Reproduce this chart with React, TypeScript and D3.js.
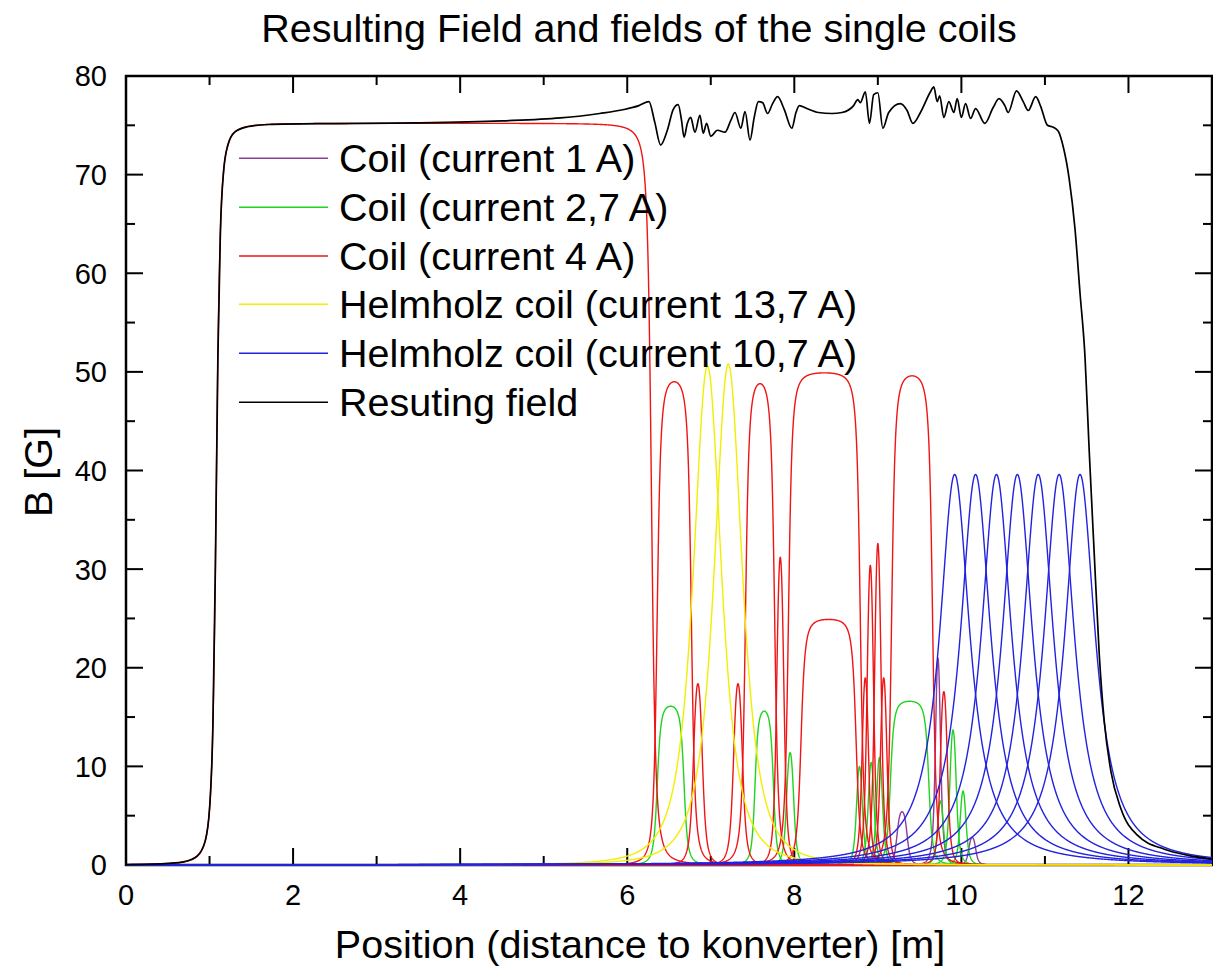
import React from 'react';
import * as d3 from 'd3';

// ---------- axis ticks ----------
const xMajorTicks = [0, 2, 4, 6, 8, 10, 12];
const xMinorTicks = [1, 3, 5, 7, 9, 11];
const yMajorTicks = [0, 10, 20, 30, 40, 50, 60, 70, 80];
const yMinorTicks = [5, 15, 25, 35, 45, 55, 65, 75];

// ---------- coil tables: [center m, peak G, half-length m, radius m] ----------
const coil1A: number[][] = [
  [9.29, 5.4, 0.06, 0.04],
  [9.72, 21.0, 0.025, 0.035],
  [10.13, 2.8, 0.04, 0.035],
];
const coil27A: number[][] = [
  [6.52, 16.1, 0.16, 0.045],
  [7.64, 15.6, 0.11, 0.04],
  [7.95, 11.4, 0.04, 0.04],
  [8.78, 10.0, 0.03, 0.04],
  [8.92, 10.4, 0.03, 0.04],
  [9.02, 10.9, 0.03, 0.04],
  [9.38, 16.6, 0.23, 0.045],
  [9.75, 6.5, 0.03, 0.04],
  [9.9, 13.7, 0.035, 0.04],
  [10.02, 7.5, 0.03, 0.04],
];
const coil4A: number[][] = [
  [3.685, 75.2, 2.605, 0.05],
  [6.563, 49.0, 0.205, 0.045],
  [6.846, 18.4, 0.05, 0.05],
  [7.326, 18.4, 0.05, 0.05],
  [7.59, 48.8, 0.175, 0.045],
  [7.832, 31.2, 0.04, 0.04],
  [8.36, 49.9, 0.43, 0.045],
  [8.41, 24.9, 0.33, 0.05],
  [8.85, 19.0, 0.035, 0.04],
  [8.91, 30.4, 0.035, 0.04],
  [9.0, 32.6, 0.035, 0.04],
  [9.07, 19.0, 0.035, 0.04],
  [9.41, 49.6, 0.245, 0.045],
  [9.79, 17.6, 0.04, 0.04],
];
// Helmholtz coils: [center m, peak G]
const helmholtz137A: number[][] = [
  [6.96, 50.6],
  [7.21, 50.8],
];
const helmholtz137Width = 0.26;
const helmholtz137Exponent = 1.5;
const helmholtz107A: number[][] = [
  [9.92, 39.6],
  [10.17, 39.6],
  [10.42, 39.6],
  [10.67, 39.6],
  [10.92, 39.6],
  [11.17, 39.6],
  [11.42, 39.6],
];
const helmholtz107Width = 0.22;
const helmholtz107Exponent = 1;

// ---------- resulting field: [position m, B G] ----------
const resultingField: number[][] = [
  [0, 0.04], [0.3, 0.08], [0.5, 0.16], [0.7, 0.35], [0.85, 0.9], [0.95, 2.5],
  [1.0, 5.7], [1.04, 14.1], [1.07, 30.2], [1.1, 51.6], [1.13, 64.2], [1.17, 70.5],
  [1.22, 73.0], [1.3, 74.3], [1.45, 74.85], [1.7, 75.08], [2.5, 75.18], [3.5, 75.25],
  [4.5, 75.45], [5.2, 75.75], [5.67, 76.2], [5.96, 76.6], [6.14, 77.0], [6.26, 77.4],
  [6.33, 75.3], [6.4, 73.0], [6.48, 74.5], [6.55, 76.6], [6.61, 77.1], [6.65, 75.5],
  [6.68, 73.8], [6.72, 75.2], [6.76, 75.8], [6.81, 74.3], [6.87, 76.0], [6.91, 74.2],
  [6.95, 75.2], [7.0, 73.9], [7.08, 74.5], [7.17, 74.3], [7.24, 75.5], [7.29, 76.3],
  [7.36, 74.7], [7.41, 76.4], [7.47, 73.5], [7.52, 75.8], [7.57, 77.4], [7.62, 77.3],
  [7.68, 76.2], [7.74, 77.2], [7.8, 77.9], [7.88, 76.6], [7.97, 74.7], [8.02, 76.3],
  [8.06, 77.0], [8.15, 76.7], [8.29, 76.3], [8.45, 76.2], [8.57, 76.3], [8.71, 77.0],
  [8.76, 77.6], [8.79, 77.3], [8.85, 78.4], [8.9, 75.2], [8.95, 78.1], [9.0, 78.3],
  [9.06, 74.7], [9.13, 76.3], [9.27, 77.2], [9.35, 76.5], [9.42, 75.2], [9.51, 76.3],
  [9.63, 78.4], [9.67, 78.9], [9.71, 77.4], [9.74, 78.0], [9.79, 75.8], [9.85, 77.4],
  [9.91, 76.3], [9.95, 77.7], [10.0, 75.8], [10.05, 77.2], [10.11, 75.7], [10.17, 76.7],
  [10.28, 75.2], [10.38, 76.8], [10.45, 77.7], [10.52, 77.0], [10.56, 76.3], [10.66, 78.5],
  [10.74, 77.4], [10.8, 76.5], [10.89, 77.9], [10.95, 76.9], [11.03, 75.0], [11.1, 74.8],
  [11.16, 74.4], [11.22, 72.8], [11.29, 69.6], [11.36, 64.5], [11.42, 58], [11.48, 51.5],
  [11.53, 42], [11.59, 31.6], [11.65, 21.4], [11.71, 14.6], [11.79, 9.5], [11.91, 5.7],
  [12.11, 3.0], [12.43, 1.6], [12.7, 1.0], [13.0, 0.6],
];

const legendLabels = [
  'Coil (current 1 A)',
  'Coil (current 2,7 A)',
  'Coil (current 4 A)',
  'Helmholz coil (current 13,7 A)',
  'Helmholz coil (current 10,7 A)',
  'Resuting field',
];

// ---------- styling ----------
const COLORS = {
  purple: '#8e3f98',
  green: '#1fd41f',
  red: '#f01414',
  yellow: '#f2ee00',
  blue: '#2222e0',
  black: '#000000',
};
const legendColors = [COLORS.purple, COLORS.green, COLORS.red, COLORS.yellow, COLORS.blue, COLORS.black];
const FONT = "'Liberation Sans', Arial, Helvetica, sans-serif";

function solenoid(z: number, c: number, h: number, L: number, R: number) {
  const a = z - c + L;
  const b = z - c - L;
  const f = a / Math.hypot(a, R) - b / Math.hypot(b, R);
  const f0 = (2 * L) / Math.hypot(L, R);
  return (h * f) / f0;
}
function loopField(z: number, c: number, h: number, w: number, p: number) {
  const u = (z - c) / w;
  return h / Math.pow(1 + u * u, p);
}

export default function App() {
  const W = 1213;
  const H = 974;
  const left = 126, right = 1212, top = 76, bottom = 865;
  const x = d3.scaleLinear().domain([0, 13]).range([left, right]);
  const y = d3.scaleLinear().domain([0, 80]).range([bottom, top]);

  const samples = d3.range(0, 13.00001, 0.004);
  const line = d3.line<number[]>().x((d) => x(d[0])).y((d) => y(d[1]));
  const solPath = (c: number[]) => line(samples.map((z) => [z, solenoid(z, c[0], c[1], c[2], c[3])])) || '';
  const loopPath = (c: number[], w: number, p: number) =>
    line(samples.map((z) => [z, loopField(z, c[0], c[1], w, p)])) || '';
  const resultLine = d3
    .line<number[]>()
    .x((d) => x(d[0]))
    .y((d) => y(d[1]))
    .curve(d3.curveMonotoneX);

  const lw = 1.4;
  const majorLen = 17;
  const minorLen = 9;

  const legendRows = [158.3, 207.3, 256, 304.3, 353.3, 402.3];

  return (
    <svg
      width={W}
      height={H}
      viewBox={`0 0 ${W} ${H}`}
      style={{ position: 'absolute', left: 0, top: 0, display: 'block', background: '#fff' }}
    >
      <rect x={0} y={0} width={W} height={H} fill="#fff" />
      <defs>
        <clipPath id="plotClip">
          <rect x={left} y={top} width={right - left} height={bottom - top + 2} />
        </clipPath>
      </defs>

      {/* Title */}
      <text x={639} y={42} textAnchor="middle" fontFamily={FONT} fontSize={39.5} fill="#000">
        Resulting Field and fields of the single coils
      </text>

      {/* Frame */}
      <rect x={left} y={top} width={right - left} height={bottom - top} fill="none" stroke="#000" strokeWidth={2.5} />

      {/* Ticks */}
      <g stroke="#000" strokeWidth={2}>
        {xMajorTicks.map((t) => (
          <g key={'xM' + t}>
            <line x1={x(t)} x2={x(t)} y1={bottom} y2={bottom - majorLen} />
            <line x1={x(t)} x2={x(t)} y1={top} y2={top + majorLen} />
          </g>
        ))}
        {xMinorTicks.map((t) => (
          <g key={'xm' + t}>
            <line x1={x(t)} x2={x(t)} y1={bottom} y2={bottom - minorLen} />
            <line x1={x(t)} x2={x(t)} y1={top} y2={top + minorLen} />
          </g>
        ))}
        {yMajorTicks.map((t) => (
          <g key={'yM' + t}>
            <line x1={left} x2={left + majorLen} y1={y(t)} y2={y(t)} />
            <line x1={right} x2={right - majorLen} y1={y(t)} y2={y(t)} />
          </g>
        ))}
        {yMinorTicks.map((t) => (
          <g key={'ym' + t}>
            <line x1={left} x2={left + minorLen} y1={y(t)} y2={y(t)} />
            <line x1={right} x2={right - minorLen} y1={y(t)} y2={y(t)} />
          </g>
        ))}
      </g>

      {/* Tick labels */}
      <g fontFamily={FONT} fontSize={29} fill="#000">
        {xMajorTicks.map((t) => (
          <text key={'xl' + t} x={x(t)} y={905} textAnchor="middle">
            {t}
          </text>
        ))}
        {yMajorTicks.map((t) => (
          <text key={'yl' + t} x={107} y={y(t)} dy="0.36em" textAnchor="end">
            {t}
          </text>
        ))}
      </g>

      {/* Axis titles */}
      <text x={640} y={958} textAnchor="middle" fontFamily={FONT} fontSize={39.5} fill="#000">
        Position (distance to konverter) [m]
      </text>
      <text
        transform={`translate(52, 472) rotate(-90)`}
        textAnchor="middle"
        fontFamily={FONT}
        fontSize={39.5}
        fill="#000"
      >
        B [G]
      </text>

      {/* Curves */}
      <g clipPath="url(#plotClip)" fill="none" strokeWidth={lw} strokeLinejoin="round">
        <g stroke={COLORS.purple}>
          {coil1A.map((c, i) => (
            <path key={'p' + i} d={solPath(c)} />
          ))}
        </g>
        <g stroke={COLORS.green}>
          {coil27A.map((c, i) => (
            <path key={'g' + i} d={solPath(c)} />
          ))}
        </g>
        <g stroke={COLORS.red}>
          {coil4A.map((c, i) => (
            <path key={'r' + i} d={solPath(c)} />
          ))}
        </g>
        <g stroke={COLORS.yellow}>
          {helmholtz137A.map((c, i) => (
            <path key={'y' + i} d={loopPath(c, helmholtz137Width, helmholtz137Exponent)} />
          ))}
        </g>
        <g stroke={COLORS.blue}>
          {helmholtz107A.map((c, i) => (
            <path key={'b' + i} d={loopPath(c, helmholtz107Width, helmholtz107Exponent)} />
          ))}
        </g>
        <path d={resultLine(resultingField) || ''} stroke={COLORS.black} strokeWidth={lw + 0.3} />
      </g>

      {/* Legend */}
      <g>
        {legendLabels.map((lab, i) => (
          <g key={'lg' + i}>
            <line x1={239} x2={328} y1={legendRows[i]} y2={legendRows[i]} stroke={legendColors[i]} strokeWidth={1.6} />
            <text x={339} y={legendRows[i] + 14} fontFamily={FONT} fontSize={39.5} fill="#000">
              {lab}
            </text>
          </g>
        ))}
      </g>
    </svg>
  );
}
